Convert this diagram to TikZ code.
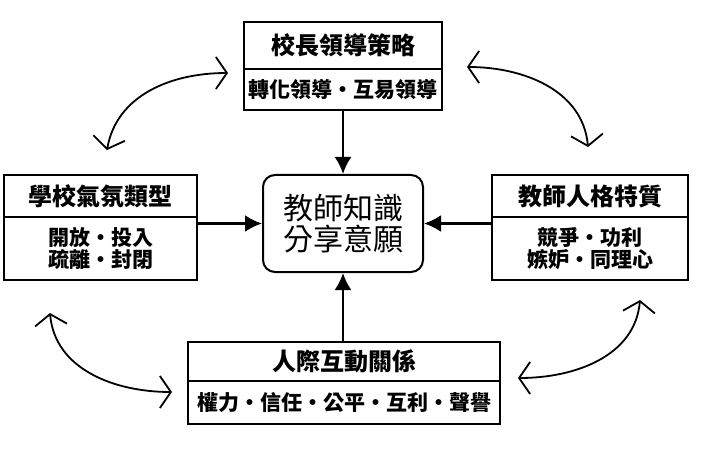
\documentclass[tikz,border=0pt]{standalone}
\usepackage{fontspec}
\newfontfamily\cjk{Noto Sans CJK TC}
\usetikzlibrary{arrows.meta, positioning}
\tikzset{
  ttl/.style={draw, line width=2pt, outer sep=0pt, font=\cjk\bfseries\fontsize{24}{26}\selectfont},
  bod/.style={draw, line width=2pt, outer sep=0pt, align=center, font=\cjk\bfseries\fontsize{21}{19}\selectfont},
  core/.style={draw, line width=2pt, rounded corners=12pt, align=center, minimum width=160pt, minimum height=97pt, font=\cjk\fontsize{30}{31}\selectfont},
  arr/.style={-{Latex[length=17pt, width=17pt]}, line width=2.4pt},
  swing/.style={{Straight Barb[length=11pt, width=32pt]}-{Straight Barb[length=11pt, width=32pt]}, line width=1.8pt},
}

\begin{document}
\begin{tikzpicture}[x=1pt, y=1pt, node distance=0pt, inner sep=0pt]
    \useasboundingbox (0,0) rectangle (701,453);
    \node[core] (share) at (343,229.5) {教師知識\\分享意願};
    \node[ttl, minimum width=198pt, minimum height=47pt] (leadT) at (343,407.5) {校長領導策略};
    \node[bod, minimum width=198pt, minimum height=41pt, below=of leadT] (leadB) {轉化領導・互易領導};
    \node[ttl, minimum width=193pt, minimum height=42pt] (climateT) at (100.5,257) {學校氣氛類型};
    \node[bod, minimum width=193pt, minimum height=63pt, below=of climateT] (climateB) {開放・投入\\疏離・封閉};
    \node[ttl, minimum width=196pt, minimum height=42pt] (charT) at (590,257) {教師人格特質};
    \node[bod, minimum width=196pt, minimum height=63pt, below=of charT] (charB) {競爭・功利\\嫉妒・同理心};
    \node[ttl, minimum width=312pt, minimum height=39pt] (relT) at (344,91.5) {人際互動關係};
    \node[bod, minimum width=312pt, minimum height=43pt, below=of relT] (relB) {權力・信任・公平・互利・聲譽};
    % into the centre
    \draw[arr] (leadB) -- (share);
    \draw[arr] (climateB.east |- share) -- (share);
    \draw[arr] (charB.west |- share) -- (share);
    \draw[arr] (relT.north -| share) -- (share);
    % curved links
    \coordinate (tlA) at ([shift={(-16,16.5)}]leadB.west);
    \coordinate (tlB) at ([shift={(6.5,25)}]climateT.north);
    \coordinate (trA) at ([shift={(25,22.5)}]leadB.east);
    \coordinate (trB) at ([shift={(-2,28)}]charT.north);
    \coordinate (blA) at ([shift={(-50.5,-33)}]climateB.south);
    \coordinate (blB) at ([shift={(-16,10.5)}]relB.west);
    \coordinate (brA) at ([shift={(18,24.5)}]relB.east);
    \coordinate (brB) at ([shift={(50,-20)}]charB.south);
    \draw[swing] (tlA) to[out=180, in=80] (tlB);
    \draw[swing] (trA) to[out=0, in=95] (trB);
    \draw[swing] (blA) to[out=-85, in=180] (blB);
    \draw[swing] (brA) to[out=0, in=-95] (brB);
\end{tikzpicture}
\end{document}
